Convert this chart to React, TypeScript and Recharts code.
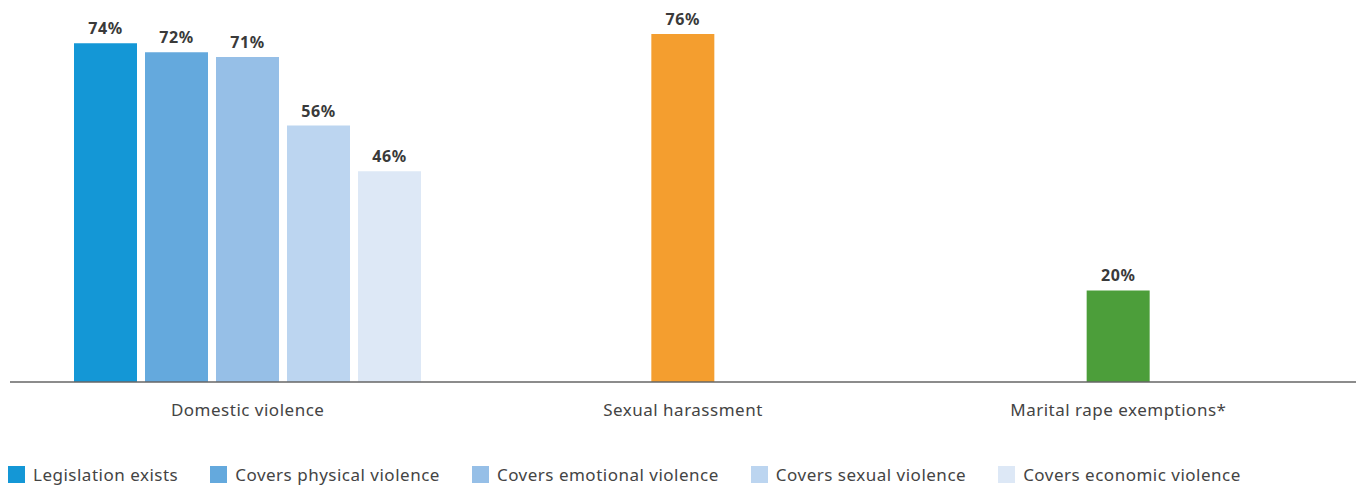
import { BarChart, Bar, XAxis, YAxis, Cell, LabelList } from 'recharts';

const categories = ['Domestic violence', 'Sexual harassment', 'Marital rape exemptions*'];

const seriesNames = [
  'Legislation exists',
  'Covers physical violence',
  'Covers emotional violence',
  'Covers sexual violence',
  'Covers economic violence',
];
const seriesColors = ['#1497d6', '#64a9dd', '#96bfe7', '#bcd5f0', '#dde8f6'];
// only the domestic violence group has the five breakdown bars
const domesticValues = [74, 72, 71, 56, 46];

// single bars for the other two categories
const singleValues: (number | null)[] = [null, 76, 20];
const singleColors = ['#ffffff', '#f49e2f', '#4c9e3a'];

const FONT = "'Noto Sans', sans-serif";

const data = categories.map((name, i) => {
  const row: Record<string, string | number | null> = { name, single: singleValues[i] };
  seriesNames.forEach((s, j) => {
    row[`s${j}`] = i === 0 ? domesticValues[j] : null;
  });
  return row;
});

const pct = (v: unknown) => (v == null ? '' : `${v}%`);

const labelStyle = { fontSize: 16, fontWeight: 700, fill: '#3a3a3a', fontFamily: FONT, letterSpacing: 0.6 };

export default function App() {
  return (
    <div style={{ position: 'absolute', left: 0, top: 0, width: 1356, height: 485, background: '#fff' }}>
      <BarChart
        width={1356}
        height={430}
        data={data}
        margin={{ top: 34, right: 0, left: 10, bottom: 0 }}
        barGap={8}
      >
        <XAxis
          dataKey="name"
          height={48}
          padding={{ left: 20, right: 20 }}
          tickLine={false}
          tickMargin={16}
          axisLine={{ stroke: '#666', strokeWidth: 1.5 }}
          tick={{ fontSize: 17, fill: '#444', fontFamily: FONT, letterSpacing: 0.5 }}
        />
        <XAxis xAxisId="single" dataKey="name" hide padding={{ left: 20, right: 20 }} />
        <YAxis hide domain={[0, 76]} />
        {seriesNames.map((s, j) => (
          <Bar key={s} dataKey={`s${j}`} name={s} fill={seriesColors[j]} barSize={63} isAnimationActive={false}>
            <LabelList dataKey={`s${j}`} position="top" offset={9} formatter={pct} style={labelStyle} />
          </Bar>
        ))}
        <Bar dataKey="single" xAxisId="single" barSize={63} isAnimationActive={false}>
          {data.map((_, i) => (
            <Cell key={i} fill={singleColors[i]} />
          ))}
          <LabelList dataKey="single" position="top" offset={9} formatter={pct} style={labelStyle} />
        </Bar>
      </BarChart>
      <div
        style={{
          position: 'absolute',
          left: 8,
          top: 463,
          display: 'flex',
          alignItems: 'center',
          fontFamily: FONT,
          fontSize: 17,
          letterSpacing: 0.5,
          color: '#444',
        }}
      >
        {seriesNames.map((s, j) => (
          <div key={s} style={{ display: 'flex', alignItems: 'center', marginRight: 32 }}>
            <span style={{ width: 17, height: 17, background: seriesColors[j], marginRight: 8, display: 'inline-block' }} />
            <span>{s}</span>
          </div>
        ))}
      </div>
    </div>
  );
}
